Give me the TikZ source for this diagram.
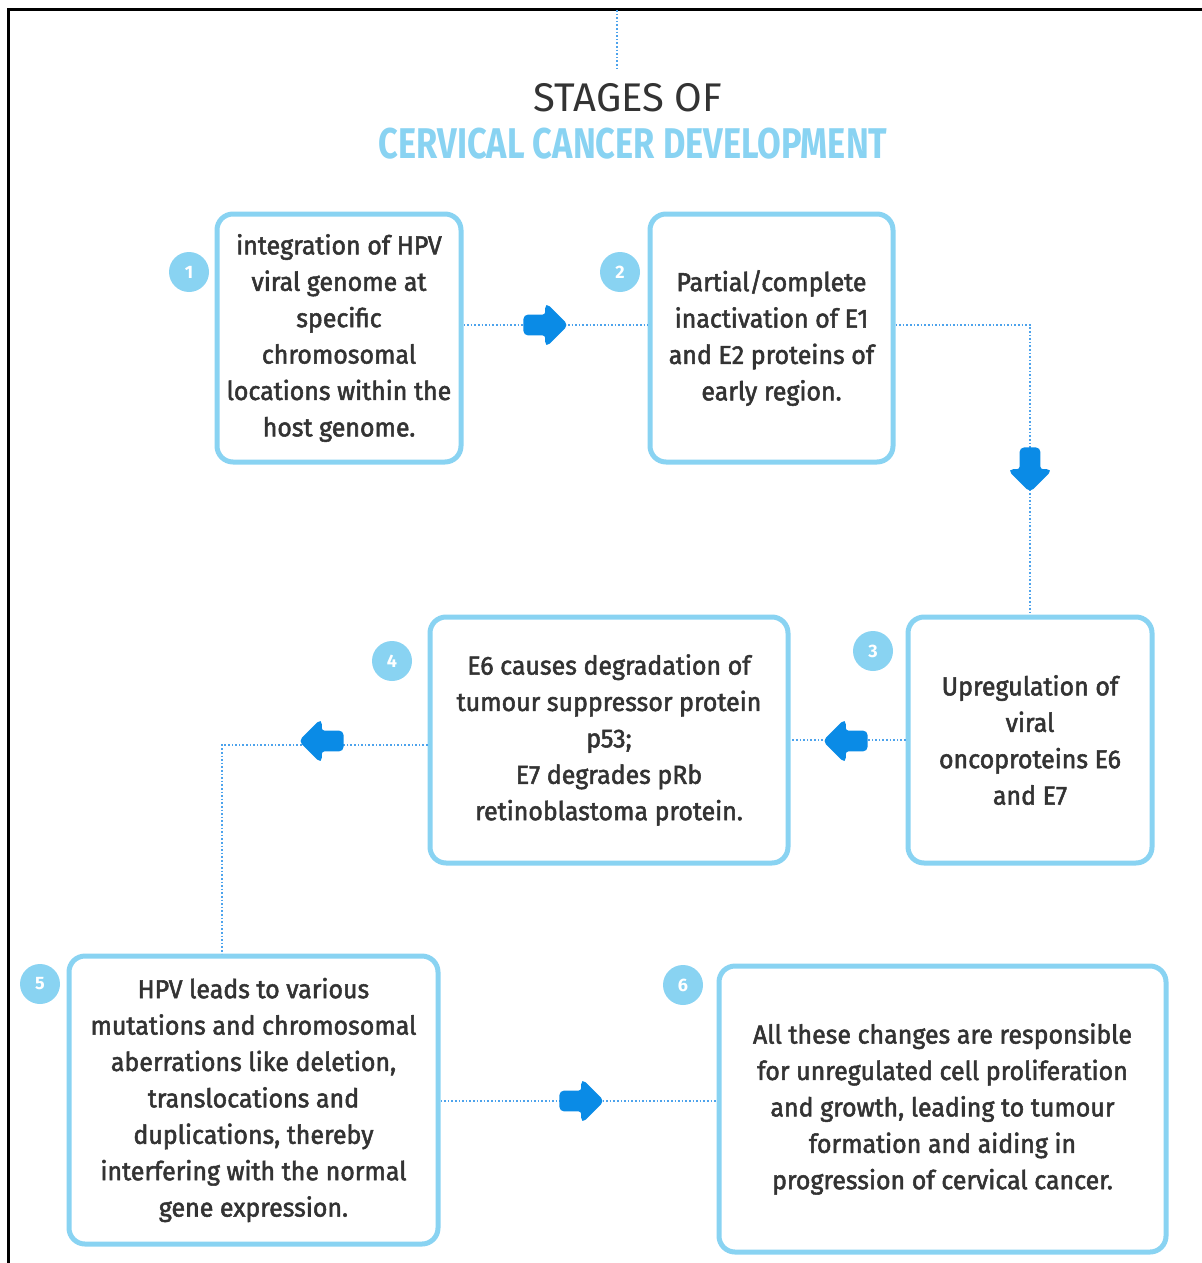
\documentclass[tikz,border=0pt]{standalone}
\usepackage{fontspec}
\setmainfont{Fira Sans}[FakeBold=2, FakeStretch=0.96]
\newfontfamily\plainfont{Fira Sans}
\newfontfamily\condfont[FakeStretch=0.8]{Fira Sans}
\usetikzlibrary{shapes.arrows}
\definecolor{boxblue}{HTML}{89D3F2}
\definecolor{arrblue}{HTML}{0A8BE6}
\definecolor{dotblue}{HTML}{4DA3EC}
\definecolor{txtgray}{HTML}{333333}
\tikzset{
  stage/.style={draw=boxblue, line width=2.5pt, rounded corners=8pt, align=center,
    text=txtgray, font=\fontsize{13}{18.2}\selectfont, inner sep=0pt},
  num/.style={circle, fill=boxblue, minimum size=20pt, inner sep=0pt, text=white,
    font=\plainfont\fontsize{9}{9}\selectfont\bfseries},
  link/.style={dotblue, densely dotted, line width=0.8pt},
  blockarrow/.style={single arrow, fill=arrblue, draw=arrblue, line width=1.2pt, rounded corners=1.8pt,
    minimum height=21pt, minimum width=20pt, single arrow head extend=5.5pt, inner sep=4pt}
}
\begin{document}
\begin{tikzpicture}[x={(0.5pt,0)}, y={(0,-0.5pt)}]
				\useasboundingbox (0,0) rectangle (1201,1263);
				% frame
				\draw[line width=1.5pt] (8,1270) -- (8,10) -- (1210,10);
				\coordinate (Top) at (617,10);
				\coordinate (TopEnd) at (617,70);
				\draw[link] (Top) -- (TopEnd);
				% title
				\node[text=txtgray, font=\plainfont\fontsize{20}{20}\selectfont] (T1) at (628,98) {STAGES OF};
				\node[text=boxblue, font=\condfont\fontsize{21.5}{21.5}\selectfont\bfseries] (T2) at (633,144) {CERVICAL CANCER DEVELOPMENT};
				% stages
				\node[stage, minimum width=122pt, minimum height=124pt] (S1) at (339,338)
					{integration of HPV\\viral genome at\\specific\\chromosomal\\locations within the\\host genome.};
				\node[stage, minimum width=121.5pt, minimum height=124pt] (S2) at (771.5,338)
					{Partial/complete\\inactivation of E1\\and E2 proteins of\\early region.};
				\node[stage, minimum width=122pt, minimum height=123pt] (S3) at (1030,740)
					{Upregulation of\\viral\\oncoproteins E6\\and E7};
				\node[stage, minimum width=179pt, minimum height=123pt] (S4) at (609,740)
					{E6 causes degradation of\\tumour suppressor protein\\p53;\\E7 degrades pRb\\retinoblastoma protein.};
				\node[stage, minimum width=184.5pt, minimum height=144pt] (S5) at (253.5,1100)
					{HPV leads to various\\mutations and chromosomal\\aberrations like deletion,\\translocations and\\duplications, thereby\\interfering with the normal\\gene expression.};
				\node[stage, minimum width=223.5pt, minimum height=143pt] (S6) at (942.5,1109)
					{All these changes are responsible\\for unregulated cell proliferation\\and growth, leading to tumour\\formation and aiding in\\progression of cervical cancer.};
				% numbers
				\node[num] (N1) at (189,272) {1};
				\node[num] (N2) at (620,272) {2};
				\node[num] (N3) at (873,651) {3};
				\node[num] (N4) at (392,661) {4};
				\node[num] (N5) at (40,984) {5};
				\node[num] (N6) at (683,985) {6};
				% connectors
				\coordinate (C45) at (222,745);
				\draw[link] ([yshift=6.5pt]S1.east) -- ([yshift=6.5pt]S2.west);
				\draw[link] ([yshift=6.5pt]S2.east) -| (S3.north);
				\draw[link] (S3.west) -- (S4.east);
				\draw[link] ([yshift=-2.5pt]S4.west) -- (C45) -- (C45 |- S5.north);
				\draw[link] ([yshift=-0.5pt]S5.east) -- ([yshift=-0.5pt]S5.east -| S6.west);
				% arrows
				\node[blockarrow] (A1) at (541,325) {};
				\node[blockarrow, rotate=-90] (A2) at (1030,465) {};
				\node[blockarrow, rotate=180] (A3) at (850,741) {};
				\node[blockarrow, rotate=180] (A4) at (326,741) {};
				\node[blockarrow] (A5) at (577,1101) {};
			\end{tikzpicture}
\end{document}
